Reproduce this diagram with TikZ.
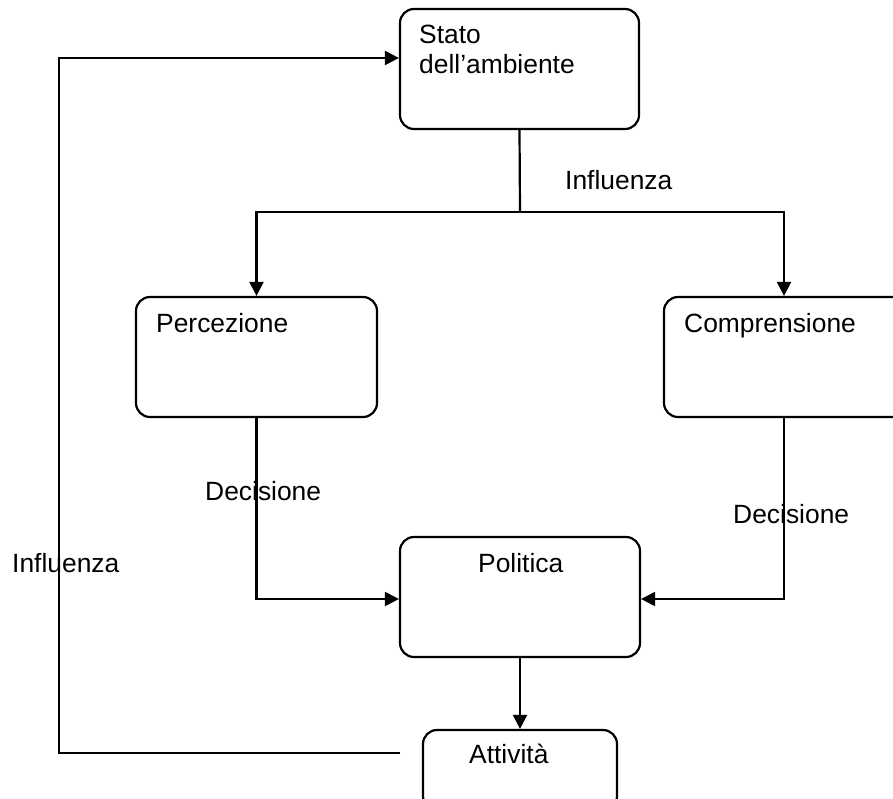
\documentclass[tikz,border=0pt]{standalone}
\usepackage{fontspec}
\setmainfont{Liberation Sans}
\usetikzlibrary{arrows.meta}
\begin{document}
\begin{tikzpicture}[x=1pt,y=-1pt,
  box/.style={draw,line width=2.2pt,rounded corners=14pt,inner sep=0pt},
  lbl/.style={anchor=base west,inner sep=0pt,font=\fontsize{26.4}{31}\selectfont},
  link/.style={line width=2.2pt},
  arr/.style={link,-{Triangle[length=14pt,width=14pt]}}]
\useasboundingbox (0,0) rectangle (893,798);
\clip (0,0) rectangle (893,798);

% boxes
\node[box,minimum width=239pt,minimum height=120pt] (stato) at (519.5,69) {};
\node[box,minimum width=241pt,minimum height=120pt] (perc) at (256.5,357) {};
\node[box,minimum width=260pt,minimum height=120pt] (comp) at (794,357) {};
\node[box,minimum width=240pt,minimum height=120pt] (pol) at (520,597) {};
\node[box,minimum width=194pt,minimum height=80pt] (att) at (520,770) {};

% box texts
\node[lbl] (tstato1) at (419,43) {Stato};
\node[lbl] (tstato2) at (419,73) {dell’ambiente};
\node[lbl] (tperc) at (156,332) {Percezione};
\node[lbl] (tcomp) at (684,332) {Comprensione};
\node[lbl] (tpol) at (478,572) {Politica};
\node[lbl] (tatt) at (469,763) {Attività};

% connectors
\coordinate (split) at (520,212);
\draw[link] (stato.south) -- (split);
\draw[arr] (split) -| (perc.north);
\draw[arr] (split) -| ([xshift=-10pt]comp.north);
\draw[arr] (perc.south) |- ([yshift=-2pt]pol.west);
\draw[arr] ([xshift=-10pt]comp.south) |- ([yshift=-2pt]pol.east);
\draw[arr] (pol.south) -- (att.north);
\coordinate (fb) at (400,753);
\coordinate (fbcorner) at (59,753);
\draw[arr] (fb) -- (fbcorner) |- ([yshift=11pt]stato.west);

% connector labels
\node[lbl] (linf1) at (565,189) {Influenza};
\node[lbl] (ldec1) at (205,500) {Decisione};
\node[lbl] (ldec2) at (733,523) {Decisione};
\node[lbl] (linf2) at (12,572) {Influenza};
\end{tikzpicture}
\end{document}
